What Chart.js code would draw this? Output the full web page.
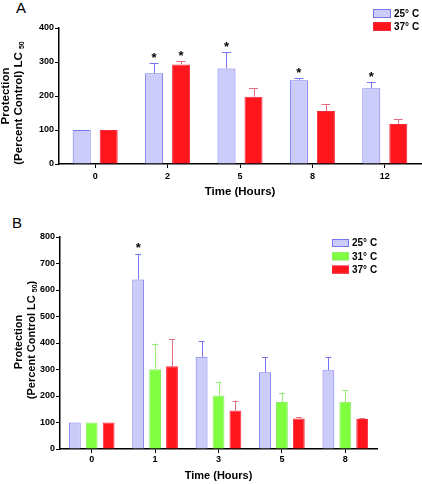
<!DOCTYPE html>
<html>
<head>
<meta charset="utf-8">
<script src="https://cdn.jsdelivr.net/npm/chart.js@4"></script>
<style>
    body { margin: 0; background: #fff; width: 422px; height: 484px; position: relative; overflow: hidden;
           font-family: "Liberation Sans", Arial, sans-serif; }
    canvas { position: absolute; left: 0; }
    #chartA { top: 0; }
    #chartB { top: 205px; }
    .panel { position: absolute; font-size: 15px; line-height: 15px; color: #000; }
</style>
</head>
<body>
<div class="panel" style="left:16px;top:0px">A</div>
<div class="panel" style="left:12px;top:215px">B</div>
<canvas id="chartA" width="422" height="200"></canvas>
<canvas id="chartB" width="422" height="279"></canvas>
<script>
// Panel A
const hoursA = ["0", "2", "5", "8", "12"];
const a25 = [100, 267, 281, 246, 223];
const a25Err = [0, 29, 47, 6, 17];
const a25Star = [false, true, true, true, true];
const a37 = [100, 293, 198, 156, 118];
const a37Err = [0, 9, 25, 20, 14];
const a37Star = [false, true, false, false, false];
const ticksA = [0, 100, 200, 300, 400];

// Panel B
const hoursB = ["0", "1", "3", "5", "8"];
const b25 = [100, 640, 348, 290, 297];
const b25Err = [0, 97, 58, 56, 51];
const b25Star = [false, true, false, false, false];
const b31 = [100, 301, 202, 177, 178];
const b31Err = [0, 97, 52, 36, 44];
const b37 = [100, 312, 145, 115, 113];
const b37Err = [0, 102, 38, 5, 4];
const ticksB = [0, 100, 200, 300, 400, 500, 600, 700, 800];

const FONT = "'Liberation Sans', Arial, sans-serif";
const lavender = { fill: "rgb(204,204,250)", border: "rgb(118,118,240)", err: "rgb(118,118,240)" };
const green = { fill: "rgb(128,255,64)", border: "rgb(140,235,100)", err: "rgb(150,235,120)" };
const red = { fill: "rgb(255,22,28)", border: "rgb(245,40,60)", err: "rgb(225,110,130)" };

function ds(label, data, err, stars, c) {
    return {
        label: label, data: data, err: err, stars: stars || [],
        backgroundColor: c.fill, borderColor: c.border, errColor: c.err,
        borderWidth: 1, borderSkipped: "bottom"
    };
}

// error bars (upper only) + significance stars
const errorBars = {
    id: "errorBars",
    afterDatasetsDraw(chart) {
        const ctx = chart.ctx;
        const y = chart.scales.y;
        chart.data.datasets.forEach((d, i) => {
            chart.getDatasetMeta(i).data.forEach((bar, j) => {
                let top = bar.y;
                if (d.err[j] > 0) {
                    top = y.getPixelForValue(d.data[j] + d.err[j]);
                    const cap = bar.width * 0.5;
                    ctx.save();
                    ctx.strokeStyle = d.errColor;
                    ctx.lineWidth = 1;
                    ctx.beginPath();
                    ctx.moveTo(Math.round(bar.x) + 0.5, bar.y);
                    ctx.lineTo(Math.round(bar.x) + 0.5, top);
                    ctx.moveTo(bar.x - cap / 2, Math.round(top) + 0.5);
                    ctx.lineTo(bar.x + cap / 2, Math.round(top) + 0.5);
                    ctx.stroke();
                    ctx.restore();
                }
                if (d.stars[j]) {
                    ctx.save();
                    ctx.fillStyle = "#000";
                    ctx.font = "bold 13px " + FONT;
                    ctx.textAlign = "center";
                    ctx.textBaseline = "middle";
                    ctx.fillText("*", bar.x, top - 5);
                    ctx.restore();
                }
            });
        });
    }
};

// legend box + rotated y title with subscript
const decorations = {
    id: "decorations",
    afterDraw(chart, args, opts) {
        const ctx = chart.ctx;
        ctx.save();
        const lg = opts.legend;
        chart.data.datasets.forEach((d, i) => {
            const by = lg.y + i * lg.step;
            ctx.fillStyle = d.backgroundColor;
            ctx.fillRect(lg.x, by, lg.w, lg.h);
            ctx.strokeStyle = d.borderColor;
            ctx.lineWidth = 1;
            ctx.strokeRect(lg.x + 0.5, by + 0.5, lg.w - 1, lg.h - 1);
            ctx.fillStyle = "#000";
            ctx.font = "bold 10px " + FONT;
            ctx.textBaseline = "middle";
            ctx.textAlign = "left";
            ctx.fillText(d.label, lg.x + lg.w + 3, by + lg.h / 2 + 0.5);
        });
        opts.title.forEach((line) => {
            const size = opts.titleSize;
            const sub = Math.round(size * 0.65);
            let width = 0;
            line.parts.forEach((p) => {
                ctx.font = "bold " + (p.sub ? sub : size) + "px " + FONT;
                p.w = ctx.measureText(p.t).width;
                width += p.w;
            });
            ctx.save();
            ctx.translate(line.x, line.y);
            ctx.rotate(-Math.PI / 2);
            ctx.fillStyle = "#000";
            ctx.textBaseline = "middle";
            ctx.textAlign = "left";
            let x = -width / 2;
            line.parts.forEach((p) => {
                ctx.font = "bold " + (p.sub ? sub : size) + "px " + FONT;
                ctx.fillText(p.t, x, p.sub ? size * 0.3 : 0);
                x += p.w;
            });
            ctx.restore();
        });
        ctx.restore();
    }
};

function makeChart(id, labels, datasets, ticks, cfg) {
    return new Chart(document.getElementById(id).getContext("2d"), {
        type: "bar",
        data: { labels: labels, datasets: datasets },
        plugins: [errorBars, decorations],
        options: {
            responsive: false,
            animation: false,
            categoryPercentage: cfg.cp,
            barPercentage: cfg.bp,
            layout: { padding: { top: cfg.top, right: cfg.right, left: 0, bottom: 0 } },
            plugins: {
                legend: { display: false },
                tooltip: { enabled: false },
                decorations: { legend: cfg.legend, title: cfg.title, titleSize: cfg.titleSize }
            },
            scales: {
                x: {
                    grid: { offset: false, drawOnChartArea: false, tickLength: 4, color: "#000", tickWidth: 1 },
                    border: { color: "#000", width: 1.5 },
                    ticks: { color: "#000", padding: cfg.xPad, font: { family: FONT, weight: "bold", size: 9 } },
                    title: {
                        display: true, text: "Time (Hours)", color: "#000",
                        padding: { top: 0, bottom: cfg.titlePad },
                        font: { family: FONT, weight: "bold", size: cfg.xTitleSize }
                    },
                    afterFit(scale) { scale.height = cfg.xHeight; }
                },
                y: {
                    min: 0, max: ticks[ticks.length - 1],
                    afterBuildTicks(scale) { scale.ticks = ticks.map((v) => ({ value: v })); },
                    grid: { drawOnChartArea: false, tickLength: 4, color: "#000", tickWidth: 1 },
                    border: { color: "#000", width: 1.5 },
                    ticks: { color: "#000", padding: 1, font: { family: FONT, weight: "bold", size: 9 } },
                    afterFit(scale) { scale.width = cfg.yWidth; }
                }
            }
        }
    });
}

makeChart("chartA", hoursA, [
    ds("25\u00b0 C", a25, a25Err, a25Star, lavender),
    ds("37\u00b0 C", a37, a37Err, a37Star, red)
], ticksA, {
    cp: 0.746, bp: 0.667, top: 28, right: 1, yWidth: 59, xHeight: 36, xPad: 3, titlePad: 1,
    xTitleSize: 11.5, titleSize: 11.5,
    legend: { x: 373, y: 9, w: 18, h: 9, step: 13 },
    title: [
        { x: 6, y: 96, parts: [{ t: "Protection" }] },
        { x: 19, y: 103, parts: [{ t: "(Percent Control) LC " }, { t: "50", sub: true }] }
    ]
});

makeChart("chartB", hoursB, [
    ds("25\u00b0 C", b25, b25Err, b25Star, lavender),
    ds("31\u00b0 C", b31, b31Err, null, green),
    ds("37\u00b0 C", b37, b37Err, null, red)
], ticksB, {
    cp: 0.80, bp: 0.70, top: 32, right: 45, yWidth: 60, xHeight: 35, xPad: 1, titlePad: 1,
    xTitleSize: 11, titleSize: 11,
    legend: { x: 332, y: 34, w: 17, h: 8, step: 13.3 },
    title: [
        { x: 19, y: 137, parts: [{ t: "Protection" }] },
        { x: 32, y: 135, parts: [{ t: "(Percent Control LC " }, { t: "50", sub: true }, { t: ")" }] }
    ]
});
</script>
</body>
</html>
